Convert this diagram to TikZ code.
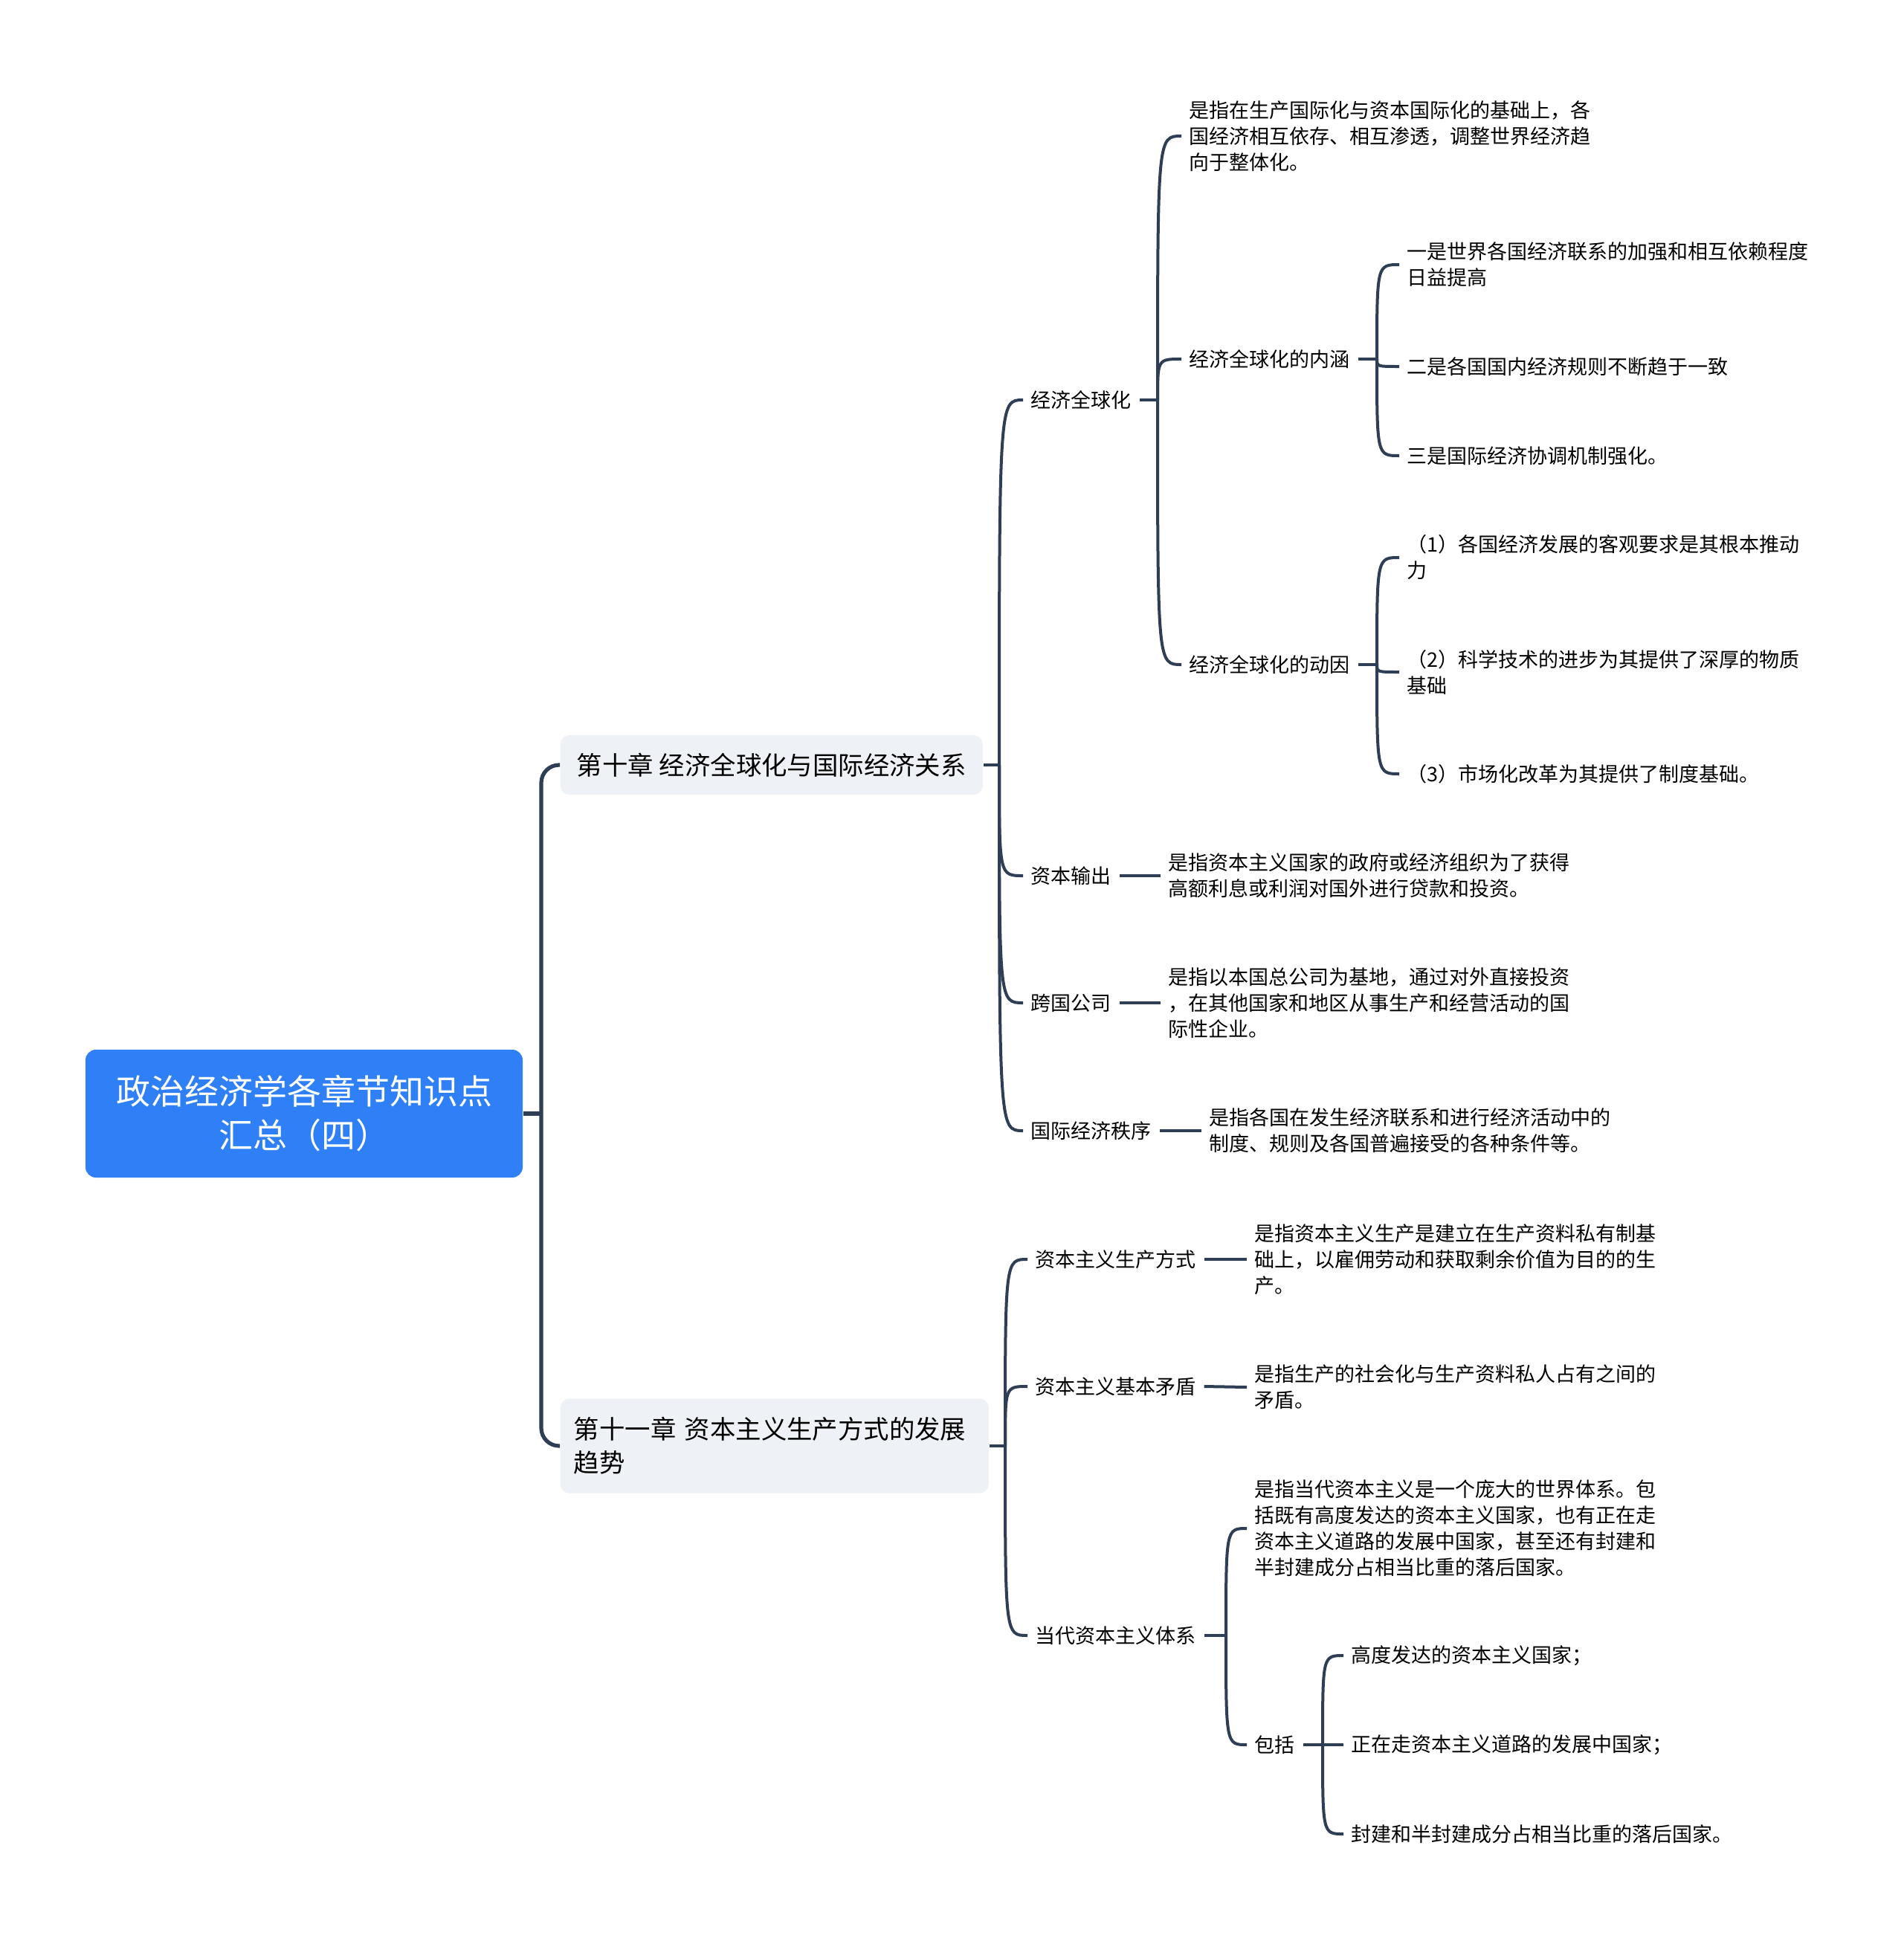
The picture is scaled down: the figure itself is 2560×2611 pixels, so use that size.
\documentclass[tikz,border=0pt]{standalone}
\usepackage{fontspec}
\setmainfont{Noto Sans CJK SC}
\definecolor{rootblue}{HTML}{2F80F6}
\definecolor{chapgrey}{HTML}{EEF1F5}
\definecolor{linkcol}{HTML}{2E3E55}
\begin{document}
\begin{tikzpicture}[x=0.25pt, y=-0.25pt,
    root/.style={fill=rootblue, text=white, rounded corners=3.5pt, minimum width=147pt, minimum height=43pt, align=center, font=\fontsize{11.5}{14.75}\selectfont},
    chap/.style={fill=chapgrey, rounded corners=3pt, anchor=west, align=left, inner xsep=4.5pt, font=\fontsize{8.6}{11.25}\selectfont},
    leaf/.style={anchor=west, align=left, inner xsep=2.5pt, inner ysep=0pt, font=\fontsize{6.75}{8.75}\selectfont},
    link/.style={draw=linkcol, line width=1pt},
    trunk/.style={draw=linkcol, line width=1.3pt, rounded corners=6pt}]
    \fill[white] (0,0) rectangle (2560,2611);
    \useasboundingbox (0,0) rectangle (2560,2611);

    \node[root] (root) at (409,1498) {政治经济学各章节知识点\\汇总（四）};
    \coordinate (j0) at (728,1498);
    \node[chap, minimum width=142pt, minimum height=20pt] (ch10) at (753,1029) {第十章 经济全球化与国际经济关系};
    \node[chap, text width=135pt, minimum height=31.75pt] (ch11) at (753,1945) {第十一章 资本主义生产方式的发展\\趋势};

    \draw[trunk] (root.east) -- (j0);
    \draw[trunk] (j0) |- (ch10.west);
    \draw[trunk] (j0) |- (ch11.west);

    % chapter 10
    \coordinate (j10) at (1344,1029);
    \node[leaf] (qqh) at (1376,538) {经济全球化};
    \node[leaf] (zbsc) at (1376,1178) {资本输出};
    \node[leaf] (kggs) at (1376,1349) {跨国公司};
    \node[leaf] (gjzx) at (1376,1521) {国际经济秩序};
    \draw[link] (ch10.east) -- (j10);
    \foreach \c in {qqh,zbsc,kggs,gjzx}
        \draw[link] (j10) .. controls (j10 |- \c.west) .. (\c.west);

    \coordinate (jqqh) at (1557,538);
    \node[leaf] (qqhdef) at (1589,183) {是指在生产国际化与资本国际化的基础上，各\\国经济相互依存、相互渗透，调整世界经济趋\\向于整体化。};
    \node[leaf] (nh) at (1589,483) {经济全球化的内涵};
    \node[leaf] (dy) at (1589,894) {经济全球化的动因};
    \draw[link] (qqh.east) -- (jqqh);
    \foreach \c in {qqhdef,nh,dy}
        \draw[link] (jqqh) .. controls (jqqh |- \c.west) .. (\c.west);

    \coordinate (jnh) at (1852,483);
    \node[leaf] (nh1) at (1882,356) {一是世界各国经济联系的加强和相互依赖程度\\日益提高};
    \node[leaf] (nh2) at (1882,493) {二是各国国内经济规则不断趋于一致};
    \node[leaf] (nh3) at (1882,613) {三是国际经济协调机制强化。};
    \draw[link] (nh.east) -- (jnh);
    \foreach \c in {nh1,nh2,nh3}
        \draw[link] (jnh) .. controls (jnh |- \c.west) .. (\c.west);

    \coordinate (jdy) at (1852,894);
    \node[leaf] (dy1) at (1882,750) {（1）各国经济发展的客观要求是其根本推动\\力};
    \node[leaf] (dy2) at (1882,904) {（2）科学技术的进步为其提供了深厚的物质\\基础};
    \node[leaf] (dy3) at (1882,1041) {（3）市场化改革为其提供了制度基础。};
    \draw[link] (dy.east) -- (jdy);
    \foreach \c in {dy1,dy2,dy3}
        \draw[link] (jdy) .. controls (jdy |- \c.west) .. (\c.west);

    \node[leaf] (zbscdef) at (1561,1178) {是指资本主义国家的政府或经济组织为了获得\\高额利息或利润对国外进行贷款和投资。};
    \node[leaf] (kggsdef) at (1561,1349) {是指以本国总公司为基地，通过对外直接投资\\，在其他国家和地区从事生产和经营活动的国\\际性企业。};
    \node[leaf] (gjzxdef) at (1616,1521) {是指各国在发生经济联系和进行经济活动中的\\制度、规则及各国普遍接受的各种条件等。};
    \draw[link] (zbsc.east) -- (zbscdef.west);
    \draw[link] (kggs.east) -- (kggsdef.west);
    \draw[link] (gjzx.east) -- (gjzxdef.west);

    % chapter 11
    \coordinate (j11) at (1352,1945);
    \node[leaf] (scfs) at (1382,1694) {资本主义生产方式};
    \node[leaf] (jbmd) at (1382,1865) {资本主义基本矛盾};
    \node[leaf] (ddtx) at (1382,2200) {当代资本主义体系};
    \draw[link] (ch11.east) -- (j11);
    \foreach \c in {scfs,jbmd,ddtx}
        \draw[link] (j11) .. controls (j11 |- \c.west) .. (\c.west);

    \node[leaf] (scfsdef) at (1677,1694) {是指资本主义生产是建立在生产资料私有制基\\础上，以雇佣劳动和获取剩余价值为目的的生\\产。};
    \node[leaf] (jbmddef) at (1677,1866) {是指生产的社会化与生产资料私人占有之间的\\矛盾。};
    \draw[link] (scfs.east) -- (scfsdef.west);
    \draw[link] (jbmd.east) -- (jbmddef.west);

    \coordinate (jddtx) at (1649,2200);
    \node[leaf] (ddtxdef) at (1677,2056) {是指当代资本主义是一个庞大的世界体系。包\\括既有高度发达的资本主义国家，也有正在走\\资本主义道路的发展中国家，甚至还有封建和\\半封建成分占相当比重的落后国家。};
    \node[leaf] (bk) at (1677,2347) {包括};
    \draw[link] (ddtx.east) -- (jddtx);
    \foreach \c in {ddtxdef,bk}
        \draw[link] (jddtx) .. controls (jddtx |- \c.west) .. (\c.west);

    \coordinate (jbk) at (1779,2347);
    \node[leaf] (bk1) at (1807,2227) {高度发达的资本主义国家；};
    \node[leaf] (bk2) at (1807,2347) {正在走资本主义道路的发展中国家；};
    \node[leaf] (bk3) at (1807,2467) {封建和半封建成分占相当比重的落后国家。};
    \draw[link] (bk.east) -- (jbk);
    \foreach \c in {bk1,bk2,bk3}
        \draw[link] (jbk) .. controls (jbk |- \c.west) .. (\c.west);
\end{tikzpicture}
\end{document}
